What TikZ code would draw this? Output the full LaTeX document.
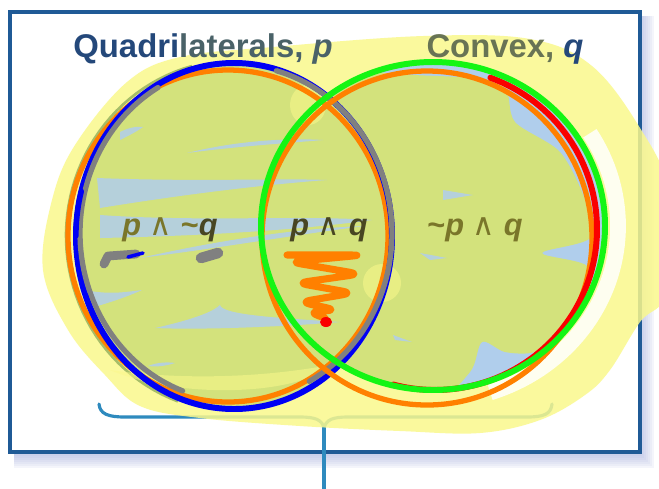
\documentclass[tikz,border=0pt]{standalone}
\usepackage{fontspec}
\setmainfont{Liberation Sans}
\newfontfamily\symfont{DejaVu Sans}

\definecolor{framecol}{RGB}{31,90,150}
\definecolor{shadowcol}{RGB}{170,180,225}
\definecolor{titlecol}{RGB}{36,72,122}
\definecolor{tintcol}{RGB}{74,98,104}
\definecolor{convexcol}{RGB}{104,116,84}
\definecolor{hilite}{RGB}{250,248,140}
\definecolor{vennblue}{RGB}{176,206,236}
\definecolor{vennfill}{RGB}{211,226,124}
\definecolor{regioncol}{RGB}{122,118,42}
\definecolor{regiondark}{RGB}{72,70,34}
\definecolor{bracecol}{RGB}{46,138,190}
\definecolor{penblue}{RGB}{0,0,245}
\definecolor{pengrey}{RGB}{128,128,128}
\definecolor{penorange}{RGB}{255,128,0}
\definecolor{penred}{RGB}{250,0,0}
\definecolor{pengreen}{RGB}{20,245,20}
\definecolor{penolive}{RGB}{110,150,70}

\begin{document}
\begin{tikzpicture}[x=0.02cm, y=-0.02cm,
  pen/.style={line width=3pt, line cap=round},
  toplabel/.style={font=\bfseries\fontsize{18.7}{22}\selectfont, anchor=base, inner sep=0pt},
  region/.style={font=\bfseries\fontsize{17.5}{20}\selectfont, text=regioncol, anchor=base, inner sep=0pt},
  streak/.style={fill=vennblue, opacity=0.85},
  glow/.style={fill=hilite, opacity=0.55},
  brace line/.style={draw=bracecol, line width=1.8pt, line cap=round}]

  % Canvas
  \clip (0,0) rectangle (659,488);
  \fill[white] (0,0) rectangle (659,488);

  % Frame with soft shadow
  \foreach \d in {2,4,...,14}
    \fill[shadowcol, opacity=0.12] (14,16) rectangle (640+\d,454+\d);
  \fill[white] (10,12) rectangle (640,452);
  \draw[framecol, line width=2.2pt] (10,12) rectangle (640,452);

  % Brace and stem
  \coordinate (braceL) at (99,404);
  \coordinate (braceR) at (552,404);
  \coordinate (braceTip) at (324,428);
  \coordinate (stemEnd) at (324,492);
  \draw[brace line] (braceL) .. controls (100,414) and (108,417) .. (125,417) -- (300,417)
    .. controls (316,417) and (322,420) .. (braceTip)
    .. controls (326,420) and (332,417) .. (348,417) -- (527,417)
    .. controls (544,417) and (551,414) .. (braceR);
  \draw[brace line, line width=2.2pt] (braceTip) -- (stemEnd);

  % Highlighter
  \fill[hilite, opacity=0.85] plot[smooth cycle, tension=0.6] coordinates {
    (43,270) (52,200) (75,145) (127,82) (180,57) (273,47) (423,36) (530,39)
    (592,66) (640,128) (668,190) (668,290) (640,322) (610,370) (585,395)
    (540,420) (480,433) (400,431) (300,426) (200,418) (140,406) (105,375) (68,330)};
  \draw[white, line width=9pt, opacity=0.85] plot[domain=-72:32, samples=50]
    ({433+185*cos(\x)},{226-175*sin(\x)});
  \draw[penolive, line width=1.5pt, opacity=0.6] plot[domain=105:250, samples=50]
    ({236+170*cos(\x)},{236-176*sin(\x)});

  % Set p
  \begin{scope}
    \clip (234,236) ellipse [x radius=158, y radius=172];
    \fill[vennfill] (0,0) rectangle (659,488);
  \end{scope}

  % Set q
  \begin{scope}
    \clip (433,226) ellipse [x radius=170, y radius=162];
    \fill[vennblue] (0,0) rectangle (659,488);
    \fill[vennfill] plot[smooth cycle, tension=0.5] coordinates {
      (255,120) (330,68) (393,74) (470,78) (505,88) (515,122) (560,152)
      (585,200) (590,238) (542,253) (587,266) (588,300) (570,332) (535,352)
      (505,352) (482,342) (470,372) (430,402) (320,402) (255,330)};
  \end{scope}

  % Blue streaks
  \fill[streak] (187,153) .. controls (240,140) and (290,138) .. (323,140)
    .. controls (290,143) and (240,146) .. (187,153);
  \fill[streak] (97,178) .. controls (200,182) and (280,178) .. (327,180)
    .. controls (260,185) and (180,195) .. (100,208) -- cycle;
  \fill[streak] (100,215) .. controls (200,222) and (300,215) .. (372,220)
    .. controls (300,230) and (200,236) .. (100,238) -- cycle;
  \fill[streak] (140,258) .. controls (220,240) and (300,228) .. (365,226)
    .. controls (300,234) and (220,248) .. (140,258);
  \fill[streak] (85,290) .. controls (110,295) and (125,292) .. (142,290)
    .. controls (120,300) and (100,305) .. (85,310) -- cycle;
  \fill[streak] (155,328) .. controls (200,318) and (215,310) .. (220,305)
    .. controls (222,315) and (280,318) .. (340,322)
    .. controls (280,327) and (200,330) .. (155,328);
  \fill[streak] (148,366) .. controls (158,362) and (168,362) .. (175,363)
    .. controls (165,366) and (158,367) .. (148,366);
  \fill[streak] (120,132) .. controls (128,128) and (136,126) .. (143,127)
    .. controls (136,132) and (128,136) .. (120,140) -- cycle;
  \fill[streak] (443,190) -- (473,195) -- (443,200) -- cycle;
  \fill[streak] (420,253) -- (447,258) -- (430,260) -- cycle;
  \fill[streak] (393,335) -- (412,342) -- (395,340) -- cycle;

  % Highlighter dabs
  \fill[glow] (382,283) circle [radius=19];
  \fill[glow] (308,105) ellipse [x radius=18, y radius=20];
  \fill[glow] (110,370) .. controls (180,380) and (260,378) .. (330,365)
    .. controls (300,395) and (180,400) .. (110,370);

  % Pen outlines of p
  \draw[penorange, pen] (228,236) ellipse [x radius=160, y radius=166];
  \draw[penblue, pen, line width=3.4pt] (234,236) ellipse [x radius=158, y radius=173];
  \draw[pengrey, pen] plot[domain=75:-62, samples=60] ({236+156*cos(\x)},{233-168*sin(\x)});
  \draw[pengrey, pen] plot[domain=120:250, samples=60] ({236+156*cos(\x)},{233-168*sin(\x)});
  \draw[penblue, pen] plot[domain=165:180, samples=10] ({234+158*cos(\x)},{236-173*sin(\x)});
  \draw[penblue, pen] plot[domain=200:212, samples=10] ({234+158*cos(\x)},{236-173*sin(\x)});

  % Pen outlines of q
  \draw[penorange, pen] (427,238) ellipse [x radius=165, y radius=167];
  \draw[penred, pen, line width=3.4pt] plot[domain=70:-105, samples=80]
    ({435+162*cos(\x)},{229-161*sin(\x)});
  \draw[pengreen, pen, line width=3.4pt] (433,226) ellipse [x radius=172, y radius=164];

  % Scribbles
  \draw[penorange, line width=4pt, line cap=round, line join=round, rounded corners=6pt]
    (287,255) -- (363,255) -- (290,262) -- (360,274) -- (297,283) -- (353,293)
    -- (300,302) -- (337,310) -- (308,312) -- (325,318);
  \fill[penred] (326,322) ellipse [x radius=6, y radius=5];
  \draw[pengrey, line width=5pt, line cap=round, line join=round] (104,264) -- (108,256) -- (136,254);
  \draw[penblue, line width=2pt, line cap=round] (128,257) -- (143,253);
  \draw[pengrey, line width=6pt, line cap=round] (201,258) -- (218,253);

  % Labels
  \node[toplabel] (labP) at (203,57) {\textcolor{titlecol}{Quadri}\textcolor{tintcol}{laterals, \textit{p}}};
  \node[toplabel] (labQ) at (505,57) {\textcolor{convexcol}{Convex,} \textcolor{titlecol}{\textit{q}}};
  \node[region] (pnq) at (170,235) {\textit{p} {\symfont\mdseries ∧} \textasciitilde\textcolor{regiondark}{\textit{q}}};
  \node[region, text=regiondark] (pq) at (329,235) {\textit{p} {\symfont\mdseries ∧} \textit{q}};
  \node[region] (npq) at (475,235) {\textasciitilde\textit{p} {\symfont\mdseries ∧} \textit{q}};
\end{tikzpicture}
\end{document}
